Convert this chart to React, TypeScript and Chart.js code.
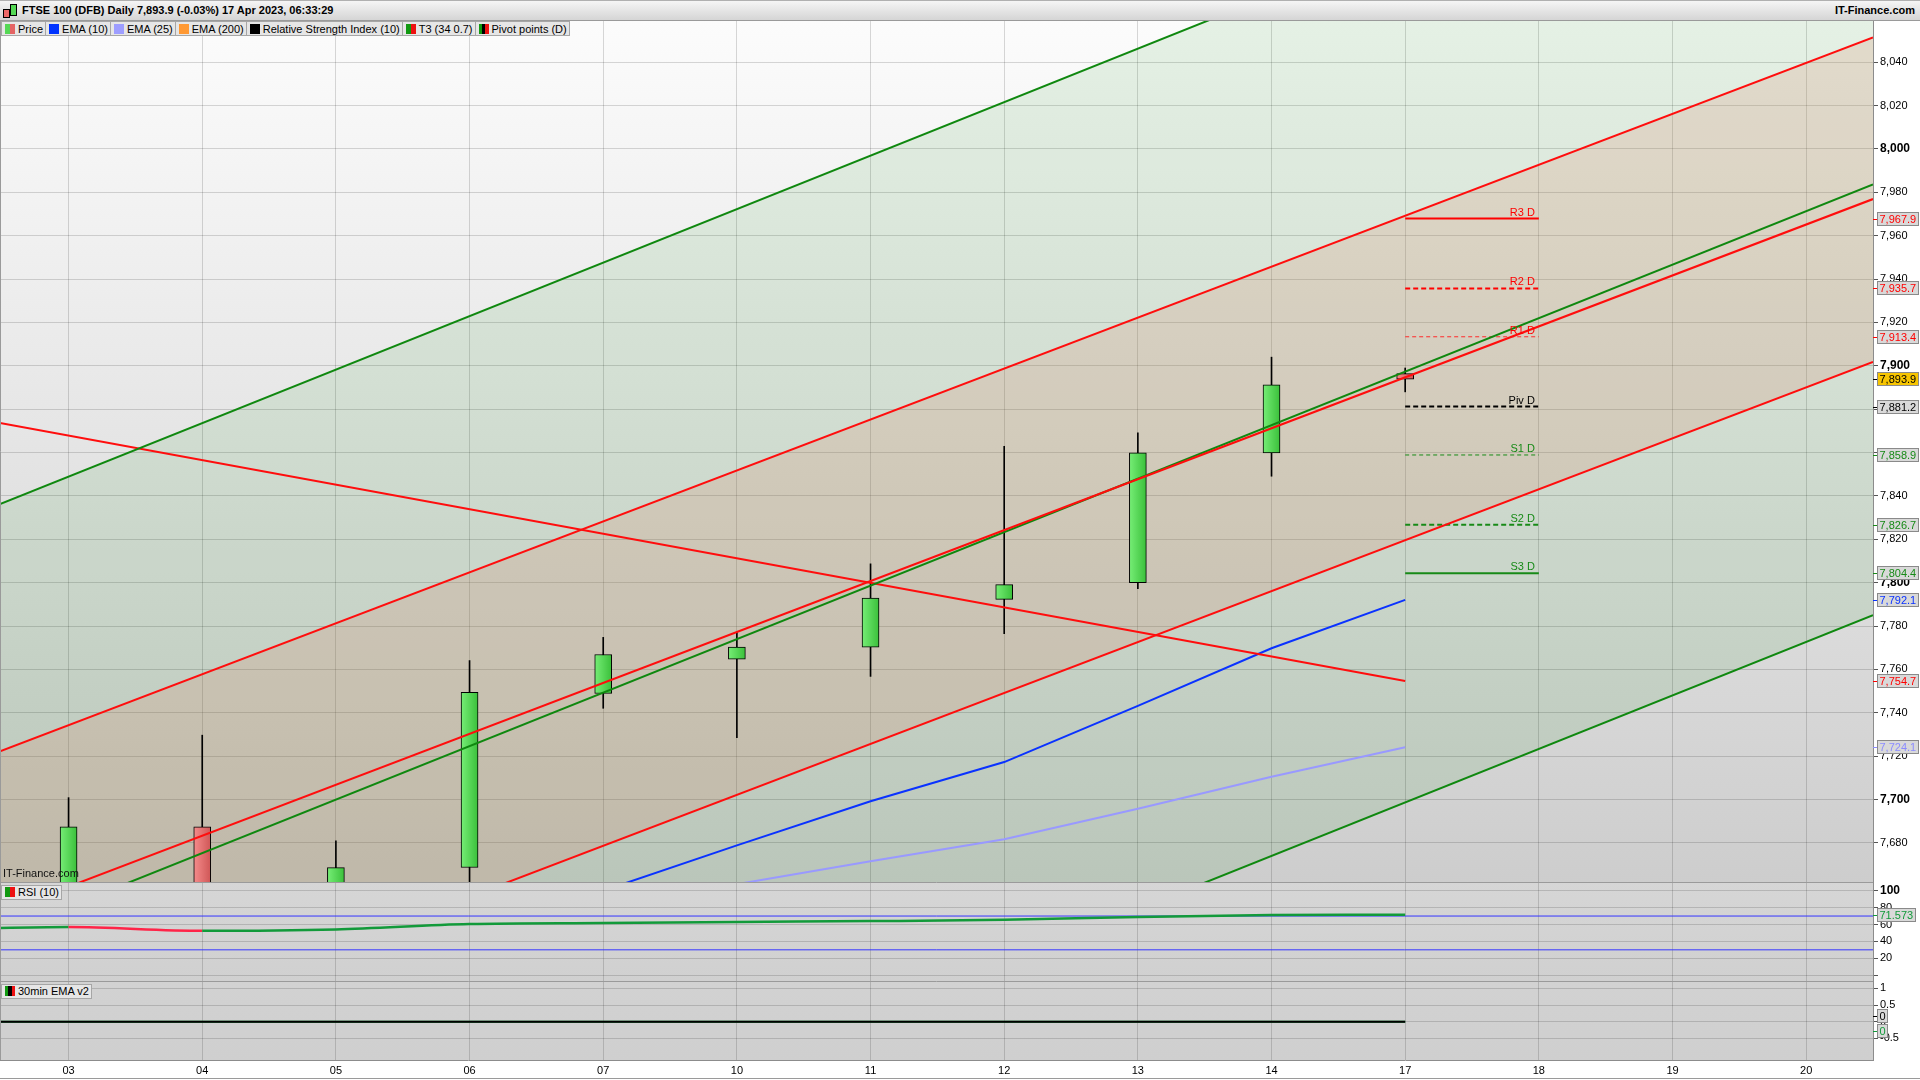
import React, { useEffect, useRef } from 'react';
import { Chart, registerables } from 'chart.js';

Chart.register(...registerables);

const FONT = '"Liberation Sans", Arial, Helvetica, sans-serif';

// ---------------- data ----------------
const dates = ['03', '04', '05', '06', '07', '10', '11', '12', '13', '14', '17', '18', '19', '20'];

const candleOpen = [7630.0, 7687.4, 7645.0, 7668.7, 7748.9, 7764.7, 7770.3, 7792.3, 7800.0, 7859.9, 7896.4];
const candleHigh = [7700.9, 7729.7, 7681.0, 7764.1, 7774.8, 7777.1, 7808.7, 7862.9, 7869.1, 7904.0, 7899.0];
const candleLow = [7615.0, 7625.0, 7638.0, 7652.0, 7742.1, 7728.6, 7756.8, 7776.5, 7797.2, 7849.1, 7888.0];
const candleClose = [7687.4, 7640.0, 7668.6, 7749.4, 7766.9, 7770.3, 7792.9, 7799.1, 7859.9, 7891.2, 7893.9];

const ema10 = [7612, 7620, 7628, 7643, 7658, 7678.9, 7699.2, 7717.3, 7743.2, 7769.8, 7792.1];
const ema25 = [7628, 7633, 7637, 7645, 7652, 7661.0, 7671.6, 7681.7, 7695.8, 7710.5, 7724.1];
const ema200 = [7561, 7562, 7563, 7565, 7566, 7568, 7570, 7572, 7574, 7577, 7580];

const priceTicks = [7680, 7700, 7720, 7740, 7760, 7780, 7800, 7820, 7840, 7860, 7880, 7900, 7920, 7940, 7960, 7980, 8000, 8020, 8040];
const priceMin = 7662;
const priceMax = 8059;

// visible x range (in day index units)
const viewStart = -0.513;
const viewEnd = 13.5;

// straight trend lines: value at left edge and at right edge of the view
const greenChannelTop = [7836.3, 8181.9];
const greenChannelMid = [7638.0, 7983.6];
const greenChannelBottom = [7439.4, 7785.0];
const redChannelTop = [7722.3, 8051.4];
const redChannelMid = [7647.8, 7976.9];
const redChannelBottom = [7572.7, 7901.8];
const fallingLineEndX = 10;
const fallingLine = [7873.6, 7754.7];

const pivotNames = ['R3 D', 'R2 D', 'R1 D', 'Piv D', 'S1 D', 'S2 D', 'S3 D'];
const pivotValues = [7967.9, 7935.7, 7913.4, 7881.2, 7858.9, 7826.7, 7804.4];
const pivotStartX = 10;
const pivotEndX = 11;

const rsiX = [-1, 0, 1, 2, 3, 4, 5, 6, 7, 8, 9, 10];
const rsiValues = [54.0, 57.0, 52.6, 54.2, 60.5, 61.7, 63.0, 64.0, 65.5, 69.0, 71.2, 71.573];
const rsiLevels = [70, 30];
const rsiTicks = [0, 20, 40, 60, 80, 100];
const rsiMin = -6.9;
const rsiMax = 110.3;

const emaV2Values = [0, 0, 0, 0, 0, 0, 0, 0, 0, 0, 0, 0];
const emaV2Signal = [0, 0, 0, 0, 0, 0, 0, 0, 0, 0, 0, 0];
const emaV2Ticks = [-0.5, 0, 0.5, 1];
const emaV2Min = -1.147;
const emaV2Max = 1.219;

// ---------------- styles ----------------
const RED = '#ff0d0d';
const GREEN = '#0f880f';
const BLUE = '#0a32ff';
const LIGHT_BLUE = '#9999ff';
const PIVOT_GREEN = '#178a17';

const pivotStyles = [
  { color: '#ff0000', width: 2, dash: [] as number[] },
  { color: '#ff0000', width: 2, dash: [5, 3] },
  { color: '#ff2a2a', width: 1, dash: [4, 3] },
  { color: '#000000', width: 2, dash: [5, 3] },
  { color: PIVOT_GREEN, width: 1, dash: [4, 3] },
  { color: PIVOT_GREEN, width: 2, dash: [5, 3] },
  { color: PIVOT_GREEN, width: 2, dash: [] as number[] },
];

const legendItems = [
  { label: 'Price', colors: ['#55d855', '#e46464'] },
  { label: 'EMA (10)', colors: ['#0033ff'] },
  { label: 'EMA (25)', colors: ['#9e9eff'] },
  { label: 'EMA (200)', colors: ['#ff9933'] },
  { label: 'Relative Strength Index (10)', colors: ['#000000'] },
  { label: 'T3 (34 0.7)', colors: ['#119911', '#ee1111'] },
  { label: 'Pivot points (D)', colors: ['#119911', '#000000', '#ee1111'] },
];

const AXIS_W = 47;

function fmtPrice(v: number, decimals = 0) {
  return v.toLocaleString('en-US', { minimumFractionDigits: decimals, maximumFractionDigits: decimals });
}

function xScale(showLabels: boolean) {
  return {
    type: 'linear',
    min: viewStart,
    max: viewEnd,
    offset: false,
    afterBuildTicks: (s: any) => {
      s.ticks = dates.map((_, i) => ({ value: i }));
    },
    afterFit: (s: any) => {
      s.height = showLabels ? 20 : 0;
      s.paddingLeft = 0;
      s.paddingRight = 0;
      s.paddingTop = 0;
      s.paddingBottom = 0;
    },
    grid: { color: 'rgba(0,0,0,0.15)', lineWidth: 1, drawTicks: false, offset: false },
    border: { display: showLabels, color: '#8c8c8c' },
    ticks: {
      display: showLabels,
      autoSkip: false,
      maxRotation: 0,
      padding: 4,
      color: '#000',
      font: { family: FONT, size: 11 },
      callback: (v: any) => dates[Math.round(Number(v))] ?? '',
    },
  };
}

function yScale(min: number, max: number, ticks: number[], fmt: (v: number) => string, isBold: (v: number) => boolean) {
  return {
    position: 'right',
    min,
    max,
    afterBuildTicks: (s: any) => {
      s.ticks = ticks.map((v) => ({ value: v }));
    },
    afterFit: (s: any) => {
      s.width = AXIS_W;
      s.paddingTop = 0;
      s.paddingBottom = 0;
      s.paddingLeft = 0;
      s.paddingRight = 0;
    },
    grid: { color: 'rgba(0,0,0,0.15)', drawTicks: true, tickLength: 5, tickColor: '#555' },
    border: { display: true, color: '#8c8c8c' },
    ticks: {
      padding: 2,
      color: '#000',
      autoSkip: false,
      font: (c: any) => {
        const b = c.tick ? isBold(c.tick.value) : false;
        return { family: FONT, size: b ? 12 : 11, weight: b ? 'bold' : 'normal' };
      },
      callback: (v: any) => fmt(Number(v)),
    },
  };
}

function baseOptions(scales: any) {
  return {
    responsive: false,
    animation: false,
    events: [],
    layout: { padding: 0, autoPadding: false },
    plugins: {
      legend: { display: false },
      tooltip: { enabled: false },
      filler: { drawTime: 'beforeDatasetsDraw', propagate: false },
    },
    scales,
  };
}

function drawValueBox(ctx: CanvasRenderingContext2D, axisX: number, y: number, text: string, color: string, bg = '#d9d9d9') {
  ctx.save();
  ctx.font = `11px ${FONT}`;
  const w = Math.round(ctx.measureText(text).width) + 5;
  const h = 14;
  const bx = Math.round(axisX) + 4;
  const by = Math.round(y - h / 2);
  ctx.fillStyle = bg;
  ctx.fillRect(bx, by, w, h);
  ctx.strokeStyle = '#8a8a8a';
  ctx.lineWidth = 1;
  ctx.strokeRect(bx + 0.5, by + 0.5, w - 1, h - 1);
  ctx.strokeStyle = color;
  ctx.beginPath();
  ctx.moveTo(axisX, Math.round(y) + 0.5);
  ctx.lineTo(bx, Math.round(y) + 0.5);
  ctx.stroke();
  ctx.fillStyle = color;
  ctx.textAlign = 'left';
  ctx.textBaseline = 'middle';
  ctx.fillText(text, bx + 2.5, by + h / 2 + 0.5);
  ctx.restore();
}

function panelBackground(id: string, top: string, bottom: string, topLine: boolean) {
  return {
    id,
    beforeDraw(chart: any) {
      const { ctx, chartArea: a, width, height } = chart;
      ctx.save();
      ctx.fillStyle = '#ffffff';
      ctx.fillRect(0, 0, width, height);
      const g = ctx.createLinearGradient(0, a.top, 0, a.bottom);
      g.addColorStop(0, top);
      g.addColorStop(1, bottom);
      ctx.fillStyle = g;
      ctx.fillRect(a.left, a.top, a.right - a.left, a.bottom - a.top);
      ctx.restore();
    },
    afterDraw(chart: any) {
      const { ctx, chartArea: a } = chart;
      ctx.save();
      ctx.strokeStyle = '#9a9a9a';
      ctx.lineWidth = 1;
      ctx.beginPath();
      ctx.moveTo(0.5, a.top);
      ctx.lineTo(0.5, a.bottom);
      if (topLine) {
        ctx.moveTo(0, a.top + 0.5);
        ctx.lineTo(a.right, a.top + 0.5);
      }
      ctx.stroke();
      ctx.restore();
    },
  };
}

function edgeLine(vals: number[], endX = viewEnd) {
  return [
    { x: viewStart, y: vals[0] },
    { x: endX, y: vals[1] },
  ];
}

function lineDs(data: any[], color: string, width: number, order: number, extra: any = {}) {
  return {
    type: 'line',
    data,
    borderColor: color,
    borderWidth: width,
    pointRadius: 0,
    fill: false,
    tension: 0,
    order,
    ...extra,
  };
}

function candleFill(c: any) {
  const i = c.dataIndex;
  const up = candleClose[i] >= candleOpen[i];
  const chart = c.chart;
  const xs = chart.scales && chart.scales.x;
  if (!xs || !chart.chartArea) return up ? '#5bdc5b' : '#e87070';
  const px = xs.getPixelForValue(i);
  const g = chart.ctx.createLinearGradient(px - 8, 0, px + 8, 0);
  g.addColorStop(0, up ? '#74ec74' : '#f48a8a');
  g.addColorStop(1, up ? '#3cc13c' : '#d05858');
  return g;
}

const TAN = 'rgba(240,135,115,0.2)';
const GREEN_TINT = 'rgba(0,128,0,0.09)';

function MainChart() {
  const ref = useRef<HTMLCanvasElement>(null);
  useEffect(() => {
    const idx = candleOpen.map((_, i) => i);
    const datasets: any[] = [
      lineDs(edgeLine(greenChannelTop), GREEN, 2, 1, {
        fill: { target: 2, above: GREEN_TINT, below: GREEN_TINT },
      }),
      lineDs(edgeLine(greenChannelMid), GREEN, 2, 1),
      lineDs(edgeLine(greenChannelBottom), GREEN, 2, 1),
      lineDs(edgeLine(redChannelTop), RED, 2, 1, {
        fill: { target: 5, above: TAN, below: TAN },
      }),
      lineDs(edgeLine(redChannelMid), RED, 2, 0),
      lineDs(edgeLine(redChannelBottom), RED, 2, 1),
      lineDs(edgeLine(fallingLine, fallingLineEndX), RED, 2, 1),
      lineDs(idx.map((i) => ({ x: i, y: ema200[i] })), '#ff9933', 2, 1),
      lineDs(idx.map((i) => ({ x: i, y: ema25[i] })), LIGHT_BLUE, 2, 1),
      lineDs(idx.map((i) => ({ x: i, y: ema10[i] })), BLUE, 2, 1),
      ...pivotValues.map((v, k) =>
        lineDs(
          [
            { x: pivotStartX, y: v },
            { x: pivotEndX, y: v },
          ],
          pivotStyles[k].color,
          pivotStyles[k].width,
          1,
          { borderDash: pivotStyles[k].dash }
        )
      ),
      {
        type: 'bar',
        data: idx.map((i) => ({ x: i, y: [candleLow[i], candleHigh[i]] })),
        backgroundColor: '#000',
        borderWidth: 0,
        barThickness: 1,
        grouped: false,
        order: 6,
      },
      {
        type: 'bar',
        data: idx.map((i) => ({ x: i, y: [candleOpen[i], candleClose[i]] })),
        backgroundColor: candleFill,
        borderColor: '#000',
        borderWidth: 1,
        borderSkipped: false,
        barThickness: 17,
        grouped: false,
        order: 5,
      },
    ];

    const last = candleClose.length - 1;
    const boxes = [
      ...pivotValues.map((v, k) => ({ v, color: k < 3 ? '#ff0000' : k === 3 ? '#000' : PIVOT_GREEN, bg: '#d9d9d9' })),
      { v: candleClose[last], color: '#000', bg: '#f7c500' },
      { v: ema10[last], color: BLUE, bg: '#d9d9d9' },
      { v: fallingLine[1], color: '#ff0000', bg: '#d9d9d9' },
      { v: ema25[last], color: '#8c8cff', bg: '#d9d9d9' },
    ];

    const overlay = {
      id: 'mainOverlay',
      afterDraw(chart: any) {
        const { ctx, scales } = chart;
        const x = scales.x;
        const y = scales.y;
        ctx.save();
        ctx.font = `11px ${FONT}`;
        ctx.textAlign = 'right';
        ctx.textBaseline = 'alphabetic';
        pivotValues.forEach((v, k) => {
          ctx.fillStyle = k < 3 ? '#ff0000' : k === 3 ? '#000' : PIVOT_GREEN;
          ctx.fillText(pivotNames[k], x.getPixelForValue(pivotEndX) - 4, y.getPixelForValue(v) - 3);
        });
        ctx.restore();
        boxes.forEach((b) => drawValueBox(ctx, chart.chartArea.right, y.getPixelForValue(b.v), fmtPrice(b.v, 1), b.color, b.bg));
      },
    };

    const chart = new Chart(ref.current as HTMLCanvasElement, {
      type: 'line',
      data: { datasets },
      options: baseOptions({
        x: xScale(false),
        y: yScale(priceMin, priceMax, priceTicks, (v) => fmtPrice(v), (v) => v % 100 === 0),
      }),
      plugins: [panelBackground('mainBg', '#fcfcfc', '#cdcdcd', false), overlay],
    } as any);
    return () => chart.destroy();
  }, []);
  return <canvas ref={ref} width={1920} height={861} style={{ position: 'absolute', left: 0, top: 21, display: 'block' }} />;
}

function RsiChart() {
  const ref = useRef<HTMLCanvasElement>(null);
  useEffect(() => {
    const datasets: any[] = [
      ...rsiLevels.map((lv) =>
        lineDs(
          [
            { x: viewStart, y: lv },
            { x: viewEnd, y: lv },
          ],
          '#3535ff',
          1,
          2
        )
      ),
      lineDs(rsiX.map((x, i) => ({ x, y: rsiValues[i] })), '#129a3a', 2.5, 1, {
        cubicInterpolationMode: 'monotone',
        segment: {
          borderColor: (c: any) => (c.p1.parsed.y >= c.p0.parsed.y ? '#129a3a' : '#ff2448'),
        },
      }),
    ];
    const overlay = {
      id: 'rsiOverlay',
      afterDraw(chart: any) {
        const v = rsiValues[rsiValues.length - 1];
        drawValueBox(chart.ctx, chart.chartArea.right, chart.scales.y.getPixelForValue(v), v.toFixed(3), '#129a3a');
      },
    };
    const chart = new Chart(ref.current as HTMLCanvasElement, {
      type: 'line',
      data: { datasets },
      options: baseOptions({
        x: xScale(false),
        y: yScale(rsiMin, rsiMax, rsiTicks, (v) => (v === 0 ? '' : String(v)), (v) => v === 100),
      }),
      plugins: [panelBackground('rsiBg', '#d6d6d6', '#d0d0d0', true), overlay],
    } as any);
    return () => chart.destroy();
  }, []);
  return <canvas ref={ref} width={1920} height={99} style={{ position: 'absolute', left: 0, top: 882, display: 'block' }} />;
}

function EmaV2Chart() {
  const ref = useRef<HTMLCanvasElement>(null);
  useEffect(() => {
    const datasets: any[] = [
      lineDs(rsiX.map((x, i) => ({ x, y: emaV2Signal[i] })), '#129a3a', 2, 2),
      lineDs(rsiX.map((x, i) => ({ x, y: emaV2Values[i] })), '#000000', 2, 1),
    ];
    const overlay = {
      id: 'emaOverlay',
      afterDraw(chart: any) {
        const { ctx, chartArea, scales } = chart;
        const y0 = scales.y.getPixelForValue(emaV2Values[emaV2Values.length - 1]);
        const y1 = scales.y.getPixelForValue(emaV2Signal[emaV2Signal.length - 1]);
        drawValueBox(ctx, chartArea.right, y0 - 6, String(emaV2Values[emaV2Values.length - 1]), '#000');
        drawValueBox(ctx, chartArea.right, y1 + 9, String(emaV2Signal[emaV2Signal.length - 1]), '#129a3a');
        ctx.save();
        ctx.strokeStyle = '#9a9a9a';
        ctx.beginPath();
        ctx.moveTo(0, chart.height - 1.5);
        ctx.lineTo(chart.width, chart.height - 1.5);
        ctx.stroke();
        ctx.restore();
      },
    };
    const chart = new Chart(ref.current as HTMLCanvasElement, {
      type: 'line',
      data: { datasets },
      options: baseOptions({
        x: xScale(true),
        y: yScale(emaV2Min, emaV2Max, emaV2Ticks, (v) => String(v), () => false),
      }),
      plugins: [panelBackground('emaBg', '#d2d2d2', '#cfcfcf', true), overlay],
    } as any);
    return () => chart.destroy();
  }, []);
  return <canvas ref={ref} width={1920} height={99} style={{ position: 'absolute', left: 0, top: 981, display: 'block' }} />;
}

function Swatch({ colors }: { colors: string[] }) {
  return (
    <span style={{ display: 'inline-flex', width: 10, height: 10, marginRight: 3 }}>
      {colors.map((c, i) => (
        <span key={i} style={{ flex: 1, background: c }} />
      ))}
    </span>
  );
}

const boxStyle: React.CSSProperties = {
  display: 'inline-flex',
  alignItems: 'center',
  height: 15,
  boxSizing: 'border-box',
  padding: '0 2px 0 3px',
  border: '1px solid #a6a6a6',
  background: '#e6e6e6',
  font: `11px ${FONT}`,
  color: '#000',
  whiteSpace: 'nowrap',
};

export default function App() {
  return (
    <div style={{ position: 'fixed', left: 0, top: 0, width: 1920, height: 1080, background: '#fff', overflow: 'hidden' }}>
      <MainChart />
      <RsiChart />
      <EmaV2Chart />
      {/* header */}
      <div
        style={{
          position: 'absolute',
          left: 0,
          top: 0,
          width: 1920,
          height: 21,
          boxSizing: 'border-box',
          background: 'linear-gradient(#f5f5f5, #d5d5d5)',
          borderBottom: '1px solid #9a9a9a',
          borderTop: '1px solid #b0b0b0',
          font: `bold 11px ${FONT}`,
          color: '#000',
        }}
      >
        <span style={{ position: 'absolute', left: 3, top: 8, width: 5, height: 7, background: '#ee6a6a', border: '1px solid #000' }} />
        <span style={{ position: 'absolute', left: 10, top: 3, width: 5, height: 10, background: '#55d855', border: '1px solid #000' }} />
        <span style={{ position: 'absolute', left: 22, top: 3 }}>FTSE 100 (DFB) Daily 7,893.9 (-0.03%) 17 Apr 2023, 06:33:29</span>
        <span style={{ position: 'absolute', right: 5, top: 3 }}>IT-Finance.com</span>
      </div>
      {/* legend */}
      <div style={{ position: 'absolute', left: 1, top: 21, display: 'flex' }}>
        {legendItems.map((it) => (
          <span key={it.label} style={{ ...boxStyle, marginRight: -1 }}>
            <Swatch colors={it.colors} />
            {it.label}
          </span>
        ))}
      </div>
      {/* watermark */}
      <div style={{ position: 'absolute', left: 3, top: 867, font: `11px ${FONT}`, color: '#111' }}>IT-Finance.com</div>
      {/* panel titles */}
      <div style={{ position: 'absolute', left: 1, top: 883 }}>
        <span style={boxStyle}>
          <Swatch colors={['#119911', '#ee1111']} />
          RSI (10)
        </span>
      </div>
      <div style={{ position: 'absolute', left: 1, top: 982 }}>
        <span style={boxStyle}>
          <Swatch colors={['#119911', '#000000', '#ee1111']} />
          30min EMA v2
        </span>
      </div>
    </div>
  );
}
